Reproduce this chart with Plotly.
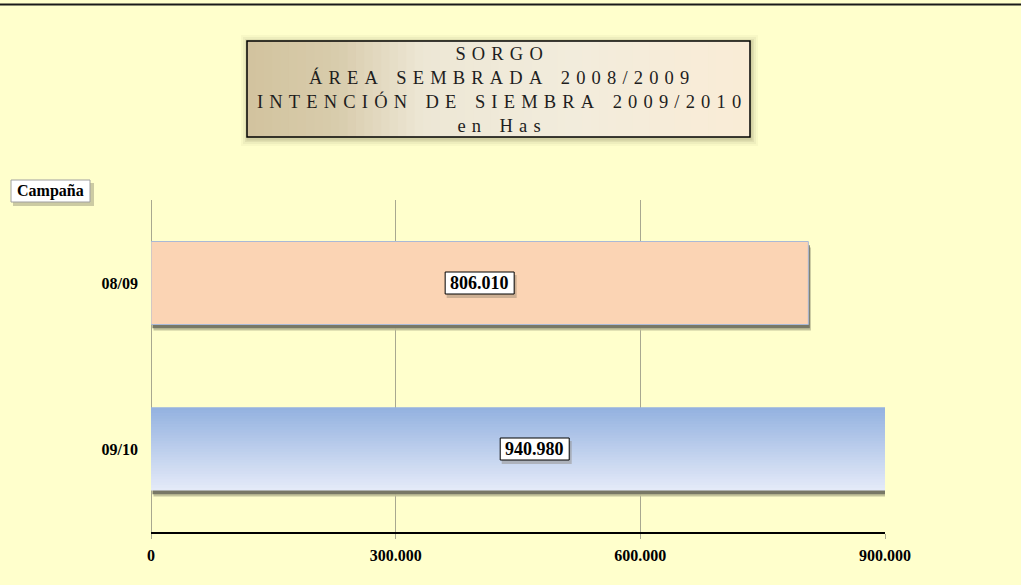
import plotly.graph_objects as go

# ---- data ----
campaigns = ["08/09", "09/10"]
hectares = [806010, 940980]
x_tickvals = [0, 300000, 600000, 900000]
x_ticktext = ["0", "300.000", "600.000", "900.000"]
title_lines = ["SORGO", "ÁREA SEMBRADA 2008/2009", "INTENCIÓN DE SIEMBRA 2009/2010", "en Has"]
axis_title = "Campaña"

# ---- geometry helpers (pixels -> paper) ----
W, H = 1021, 585
L, R, T, B = 151, 136, 200, 53
PW, PH = W - L - R, H - T - B


def px(xp):
    return (xp - L) / PW


def py(yp):
    return (H - B - yp) / PH


def fmt(v):
    return f"{v:,}".replace(",", ".")


def spaced(s):
    letter_gap = "\u00a0\u200a"
    words = s.split(" ")
    return ("\u00a0" * 4).join(letter_gap.join(list(w)) for w in words)


def lerp(c1, c2, t):
    return tuple(round(a + (b - a) * t) for a, b in zip(c1, c2))


BAR_W = 0.5
fig = go.Figure()

# shadows behind bars
shift = 2.5 * 900000 / PW
for cat, val in zip(campaigns, hectares):
    fig.add_trace(go.Bar(y=[cat], x=[val], base=shift, orientation="h",
                         width=BAR_W, offset=-BAR_W / 2 - 0.036,
                         marker=dict(color="rgba(190,190,150,0.9)", line=dict(width=0)),
                         hoverinfo="skip", showlegend=False))
    fig.add_trace(go.Bar(y=[cat], x=[val], base=shift * 0.6, orientation="h",
                         width=BAR_W, offset=-BAR_W / 2 - 0.022,
                         marker=dict(color="rgb(120,120,102)", line=dict(width=0)),
                         hoverinfo="skip", showlegend=False))

# 08/09 bar (solid peach)
fig.add_trace(go.Bar(y=[campaigns[0]], x=[hectares[0]], orientation="h",
                     width=BAR_W, offset=-BAR_W / 2,
                     marker=dict(color="#FBD4B4", line=dict(color="#A9B9D6", width=1)),
                     showlegend=False))

# 09/10 bar (vertical blue gradient built from overlapping strips)
N = 30
dark = (148, 178, 224)
light = (228, 234, 248)
step = BAR_W / N
for i in range(N):
    c = lerp(light, dark, i / (N - 1))
    wdt = step * 2 if i < N - 1 else step
    fig.add_trace(go.Bar(y=[campaigns[1]], x=[hectares[1]], orientation="h",
                         width=wdt, offset=-BAR_W / 2 + i * step,
                         marker=dict(color=f"rgb{c}", line=dict(width=0)),
                         hoverinfo="skip", showlegend=False))

shapes = []
annotations = []

# data labels (white boxes with black border + soft shadow)
for cat, val in zip(campaigns, hectares):
    shapes.append(dict(type="rect", xref="x", yref="y", xsizemode="pixel", ysizemode="pixel",
                       xanchor=val / 2, yanchor=cat, x0=-33, x1=37, y0=-15, y1=8,
                       fillcolor="rgba(120,110,90,0.35)", line=dict(width=0), layer="above"))
    shapes.append(dict(type="rect", xref="x", yref="y", xsizemode="pixel", ysizemode="pixel",
                       xanchor=val / 2, yanchor=cat, x0=-34.5, x1=34.5, y0=-11, y1=11,
                       fillcolor="white", line=dict(color="black", width=1), layer="above"))
    annotations.append(dict(x=val / 2, y=cat, xref="x", yref="y", text=f"<b>{fmt(val)}</b>",
                            showarrow=False, xanchor="center", yanchor="middle",
                            font=dict(family="Liberation Serif", size=18, color="black")))

# title box: soft shadow, gradient strips, border
bx0, bx1, by0, by1 = 247, 750, 41, 137
for g, a in [(7, 0.05), (5, 0.07), (3, 0.10), (1.5, 0.14)]:
    shapes.append(dict(type="rect", xref="paper", yref="paper",
                       x0=px(bx0 - g + 1), x1=px(bx1 + g + 1), y0=py(by1 + g + 2), y1=py(by0 - g + 1),
                       fillcolor=f"rgba(120,110,80,{a})", line=dict(width=0), layer="above"))
stops = [(0.0, (210, 195, 158)), (0.18, (216, 204, 172)), (0.35, (237, 231, 213)),
         (0.65, (242, 236, 220)), (1.0, (250, 236, 214))]
NS = 60
for i in range(NS):
    t = (i + 0.5) / NS
    for (t0, c0), (t1, c1) in zip(stops[:-1], stops[1:]):
        if t0 <= t <= t1:
            col = lerp(c0, c1, (t - t0) / (t1 - t0))
            break
    xa = bx0 + (bx1 - bx0) * i / NS
    xb = bx0 + (bx1 - bx0) * (i + 1) / NS + 0.8
    shapes.append(dict(type="rect", xref="paper", yref="paper", x0=px(xa), x1=px(min(xb, bx1)),
                       y0=py(by1), y1=py(by0), fillcolor=f"rgb{col}", line=dict(width=0), layer="above"))
shapes.append(dict(type="rect", xref="paper", yref="paper", x0=px(bx0), x1=px(bx1),
                   y0=py(by1), y1=py(by0), fillcolor="rgba(0,0,0,0)",
                   line=dict(color="black", width=1.5), layer="above"))
annotations.append(dict(x=px((bx0 + bx1) / 2), y=py((by0 + by1) / 2 + 1), xref="paper", yref="paper",
                        text="<br>".join(spaced(s) for s in title_lines), showarrow=False,
                        xanchor="center", yanchor="middle", align="center",
                        font=dict(family="Liberation Serif", size=18.5, color="#1e1e1e")))

# "Campaña" box with soft shadow
shapes.append(dict(type="rect", xref="paper", yref="paper", x0=px(13), x1=px(94),
                   y0=py(206), y1=py(183), fillcolor="rgba(110,105,85,0.35)", line=dict(width=0),
                   layer="above"))
shapes.append(dict(type="rect", xref="paper", yref="paper", x0=px(11), x1=px(90),
                   y0=py(202), y1=py(180), fillcolor="white", line=dict(color="#A0A0A0", width=1),
                   layer="above"))
annotations.append(dict(x=px(50.5), y=py(191), xref="paper", yref="paper", text=f"<b>{axis_title}</b>",
                        showarrow=False, xanchor="center", yanchor="middle",
                        font=dict(family="Liberation Serif", size=16, color="black")))

# top border line of the chart area
shapes.append(dict(type="line", xref="paper", yref="paper", x0=px(0), x1=px(W), y0=py(4.5), y1=py(4.5),
                   line=dict(color="#1a1a1a", width=2), layer="above"))

fig.update_layout(
    width=W, height=H,
    margin=dict(l=L, r=R, t=T, b=B),
    paper_bgcolor="#FFFFCC", plot_bgcolor="#FFFFCC",
    barmode="overlay",
    shapes=shapes, annotations=annotations,
    showlegend=False,
    xaxis=dict(range=[0, 900000], tickvals=x_tickvals, ticktext=x_ticktext,
               showgrid=True, gridcolor="#A8A890", gridwidth=1,
               zeroline=True, zerolinecolor="#A8A890", zerolinewidth=1,
               showline=True, linecolor="black", linewidth=1.5, mirror=False,
               ticks="outside", ticklen=5, tickcolor="#A8A890",
               ticklabelstandoff=3,
               tickfont=dict(family="Liberation Serif", size=16, color="black", weight="bold")),
    yaxis=dict(type="category", categoryorder="array", categoryarray=list(reversed(campaigns)),
               range=[-0.5, 1.5], showgrid=False, zeroline=False, showline=False, ticks="",
               ticklabelstandoff=12,
               tickfont=dict(family="Liberation Serif", size=16, color="black", weight="bold")),
)

fig.write_html("out.html", config={"displayModeBar": False},
               post_script="document.body.style.margin='0';document.body.style.padding='0';")
